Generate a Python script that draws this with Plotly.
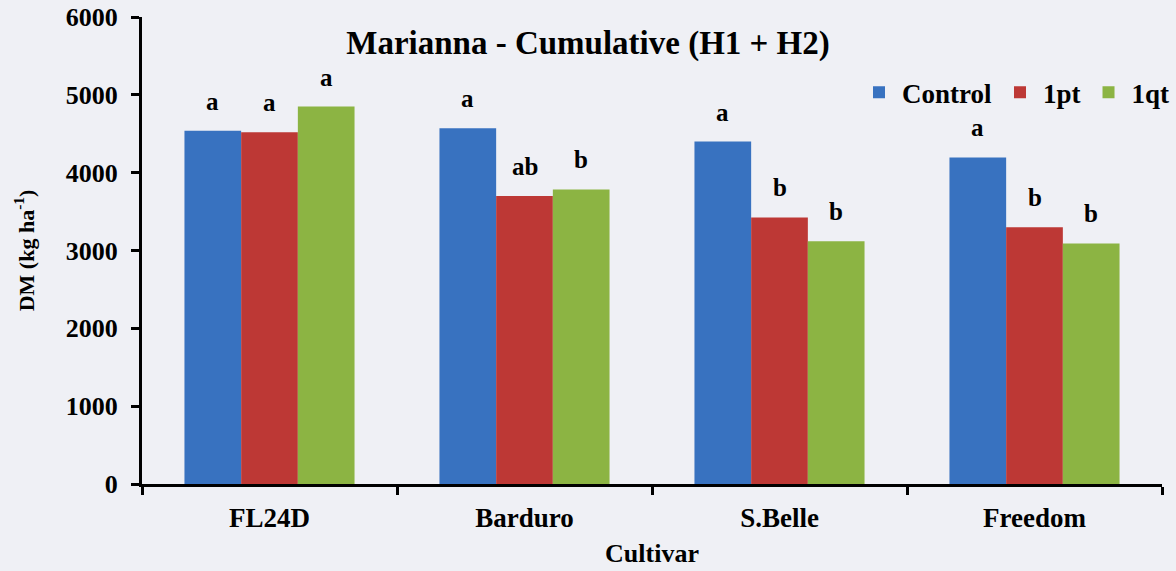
import plotly.graph_objects as go

cultivars = ["FL24D", "Barduro", "S.Belle", "Freedom"]
control = [4540, 4570, 4400, 4195]
pt1 = [4520, 3700, 3425, 3300]
qt1 = [4850, 3785, 3120, 3090]
letters_control = ["a", "a", "a", "a"]
letters_pt1 = ["a", "ab", "b", "b"]
letters_qt1 = ["a", "b", "b", "b"]
y_ticks = [0, 1000, 2000, 3000, 4000, 5000, 6000]

FONT = "Liberation Serif"
W, H = 1176, 571
ML, MR, MT, MB = 142, 14, 17, 87
BARGAP = 0.333

fig = go.Figure()
series = [
    ("Control", control, letters_control, "#3872c0"),
    ("1pt", pt1, letters_pt1, "#bd3835"),
    ("1qt", qt1, letters_qt1, "#8cb443"),
]
n_series = len(series)
cat_px = (W - ML - MR) / len(cultivars)
bar_px = cat_px * (1 - BARGAP) / n_series

for j, (name, vals, lets, col) in enumerate(series):
    fig.add_trace(go.Bar(
        x=cultivars, y=vals, name=name,
        marker=dict(color=col, line=dict(width=0)),
    ))
    for c, v, l in zip(cultivars, vals, lets):
        fig.add_annotation(
            x=c, y=v, text=f"<b>{l}</b>", showarrow=False,
            xshift=(j - (n_series - 1) / 2) * bar_px, yshift=14,
            yanchor="bottom", xanchor="center",
            font=dict(family=FONT, size=25, color="black"),
        )

fig.update_layout(
    width=W, height=H,
    barmode="group", bargap=BARGAP, bargroupgap=0,
    paper_bgcolor="#eff0f5", plot_bgcolor="#eff0f5",
    margin=dict(l=ML, r=MR, t=MT, b=MB, autoexpand=False),
    font=dict(family=FONT, color="black"),
    title=dict(text="<b>Marianna - Cumulative (H1 + H2)</b>", x=0.5, xanchor="center",
               y=1 - 42 / H, yanchor="middle",
               font=dict(family=FONT, size=33, color="black")),
    legend=dict(orientation="h", x=0.70, xanchor="left", y=0.838, yanchor="middle",
                font=dict(family=FONT, size=27, color="black", weight="bold"),
                bgcolor="rgba(0,0,0,0)", itemwidth=36, traceorder="normal"),
    showlegend=True,
)
fig.update_xaxes(
    automargin=False,
    showline=True, linecolor="black", linewidth=3,
    ticks="outside", tickson="boundaries", ticklen=8, tickwidth=3, tickcolor="black",
    tickfont=dict(family=FONT, size=27, color="black", weight="bold"),
    ticklabelstandoff=8,
    title=dict(text="<b>Cultivar</b>", font=dict(family=FONT, size=26, color="black"), standoff=12),
    showgrid=False,
)
fig.update_yaxes(
    automargin=False,
    range=[0, 6000], tickvals=y_ticks,
    showline=True, linecolor="black", linewidth=3,
    ticks="outside", ticklen=8, tickwidth=3, tickcolor="black",
    tickfont=dict(family=FONT, size=26, color="black", weight="bold"),
    ticklabelstandoff=8,
    title=dict(text="<b>DM (kg ha<sup>-1</sup>)</b>", font=dict(family=FONT, size=22, color="black"), standoff=26),
    showgrid=False, zeroline=False,
)

fig.write_html(
    "out.html",
    config={"displayModeBar": False},
    post_script="document.body.style.margin='0';document.body.style.background='#eff0f5';",
)
